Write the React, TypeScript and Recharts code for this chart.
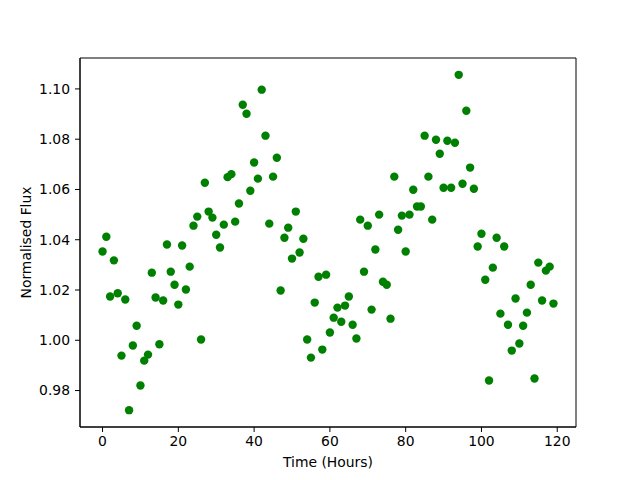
import React from "react";
import {
  ScatterChart,
  Scatter,
  XAxis,
  YAxis,
  Label,
  ReferenceArea,
} from "recharts";

// Observation times (hours)
const TIMES = [
  0, 1, 2, 3, 4, 5, 6, 7, 8, 9, 10, 11, 12, 13, 14, 15, 16, 17, 18, 19,
  20, 21, 22, 23, 24, 25, 26, 27, 28, 29, 30, 31, 32, 33, 34, 35, 36, 37, 38, 39,
  40, 41, 42, 43, 44, 45, 46, 47, 48, 49, 50, 51, 52, 53, 54, 55, 56, 57, 58, 59,
  60, 61, 62, 63, 64, 65, 66, 67, 68, 69, 70, 71, 72, 73, 74, 75, 76, 77, 78, 79,
  80, 81, 82, 83, 84, 85, 86, 87, 88, 89, 90, 91, 92, 93, 94, 95, 96, 97, 98, 99,
  100, 101, 102, 103, 104, 105, 106, 107, 108, 109, 110, 111, 112, 113, 114, 115, 116, 117, 118, 119,
];

// Normalised flux per observation
const FLUX = [
  1.0353, 1.0412, 1.0174, 1.0318, 1.0187, 0.9939, 1.0162, 0.9722, 0.9979, 1.0058,
  0.982, 0.9919, 0.9943, 1.0269, 1.017, 0.9984, 1.0158, 1.0381, 1.0273, 1.0221,
  1.0142, 1.0377, 1.0202, 1.0293, 1.0456, 1.0492, 1.0003, 1.0627, 1.0512, 1.0488,
  1.042, 1.0369, 1.046, 1.0649, 1.0661, 1.0472, 1.0544, 1.0937, 1.0901, 1.0595,
  1.0707, 1.0643, 1.0997, 1.0814, 1.0464, 1.0651, 1.0726, 1.0198, 1.0408, 1.0448,
  1.0325, 1.0512, 1.0349, 1.0404, 1.0003, 0.9931, 1.015, 1.0253, 0.9963, 1.0261,
  1.0031, 1.009, 1.013, 1.0074, 1.0138, 1.0174, 1.0062, 1.0007, 1.048, 1.0273,
  1.0456, 1.0122, 1.0361, 1.05, 1.0233, 1.0221, 1.0086, 1.0651, 1.044, 1.0496,
  1.0353, 1.05, 1.0599, 1.0532, 1.0532, 1.0814, 1.0651, 1.048, 1.0798, 1.0742,
  1.0607, 1.0794, 1.0607, 1.0786, 1.1056, 1.0623, 1.0913, 1.0687, 1.0603, 1.0373,
  1.0424, 1.0241, 0.984, 1.0289, 1.0408, 1.0106, 1.0373, 1.0062, 0.9959, 1.0166,
  0.9987, 1.0058, 1.011, 1.0221, 0.9848, 1.0309, 1.0158, 1.0277, 1.0293, 1.0146,
];

const X_TICKS = [0, 20, 40, 60, 80, 100, 120];
const Y_TICKS = [0.98, 1.0, 1.02, 1.04, 1.06, 1.08, 1.1];

const X_DOMAIN = [-5.95, 124.95];
const Y_DOMAIN = [0.9655, 1.1123];

const FONT = "'DejaVu Sans', sans-serif";
const TICK = { fill: "#000", fontSize: 13.9, fontFamily: FONT };

const data = TIMES.map((t, i) => ({ t, flux: FLUX[i] }));

const Dot = (props: any) => (
  <circle cx={props.cx} cy={props.cy} r={4.2} fill="#008000" />
);

export default function App() {
  return (
    <div style={{ position: "absolute", left: 0, top: 0, background: "#fff" }}>
      <ScatterChart
        width={640}
        height={480}
        margin={{ top: 58, right: 64, left: 0, bottom: 0 }}
      >
        <XAxis
          dataKey="t"
          type="number"
          domain={X_DOMAIN}
          ticks={X_TICKS}
          allowDataOverflow
          height={53}
          tick={TICK}
          tickSize={5}
          tickMargin={4}
          stroke="#000"
          tickLine={{ stroke: "#000" }}
        >
          <Label
            value="Time (Hours)"
            position="insideBottom"
            offset={13}
            style={{ fill: "#000", fontSize: 13.9, fontFamily: FONT }}
          />
        </XAxis>
        <YAxis
          dataKey="flux"
          type="number"
          domain={Y_DOMAIN}
          ticks={Y_TICKS}
          allowDataOverflow
          width={80}
          tick={TICK}
          tickFormatter={(v: number) => v.toFixed(2)}
          tickSize={5}
          tickMargin={5}
          stroke="#000"
          tickLine={{ stroke: "#000" }}
        >
          <Label
            value="Normalised Flux"
            angle={-90}
            position="insideLeft"
            offset={26}
            style={{ fill: "#000", fontSize: 13.9, fontFamily: FONT, textAnchor: "middle" }}
          />
        </YAxis>
        {/* box frame around the plot area */}
        <ReferenceArea
          x1={X_DOMAIN[0]}
          x2={X_DOMAIN[1]}
          y1={Y_DOMAIN[0]}
          y2={Y_DOMAIN[1]}
          fill="none"
          fillOpacity={0}
          stroke="#000"
          strokeWidth={1}
          ifOverflow="visible"
        />
        <Scatter data={data} shape={Dot} isAnimationActive={false} />
      </ScatterChart>
    </div>
  );
}
